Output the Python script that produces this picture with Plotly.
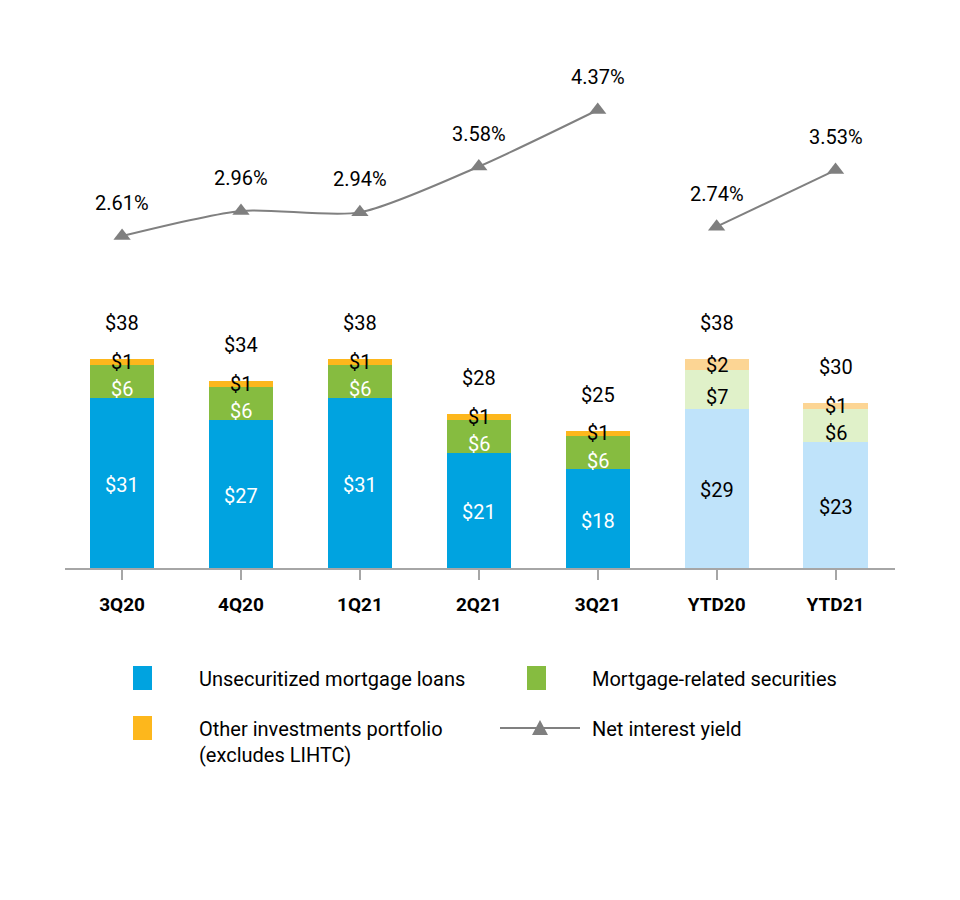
import plotly.graph_objects as go

categories = ["3Q20", "4Q20", "1Q21", "2Q21", "3Q21", "YTD20", "YTD21"]
unsecuritized = [31, 27, 31, 21, 18, 29, 23]
mortgage_sec = [6, 6, 6, 6, 6, 7, 6]
other_inv = [1, 1, 1, 1, 1, 2, 1]
totals = [38, 34, 38, 28, 25, 38, 30]
yield_q_cats = ["3Q20", "4Q20", "1Q21", "2Q21", "3Q21"]
yield_q = [2.61, 2.96, 2.94, 3.58, 4.37]
yield_ytd_cats = ["YTD20", "YTD21"]
yield_ytd = [2.74, 3.53]

FONT = "Roboto, Liberation Sans Narrow, Arial Narrow, sans-serif"
is_ytd = [c.startswith("YTD") for c in categories]
c_blue = ["#BFE3FA" if y else "#00A3E0" for y in is_ytd]
c_green = ["#E0F1C9" if y else "#86BC40" for y in is_ytd]
c_orange = ["#FCD594" if y else "#FDB71C" for y in is_ytd]

fig = go.Figure()
for vals, cols in [(unsecuritized, c_blue), (mortgage_sec, c_green), (other_inv, c_orange)]:
    fig.add_trace(go.Bar(x=categories, y=vals, marker=dict(color=cols, line=dict(width=0)),
                         showlegend=False, hoverinfo="skip"))

for xs, ys, shape in [(yield_q_cats, yield_q, "spline"), (yield_ytd_cats, yield_ytd, "linear")]:
    fig.add_trace(go.Scatter(x=xs, y=ys, yaxis="y2", mode="lines+markers",
                             line=dict(color="#808080", width=2, shape=shape, smoothing=0.7),
                             marker=dict(symbol="triangle-up", size=15, color="#7F7F7F"),
                             showlegend=False, hoverinfo="skip"))

ann = []
for i, c in enumerate(categories):
    ytd = is_ytd[i]
    base = 0
    for vals, col, shift in [(unsecuritized, "black" if ytd else "white", -2),
                             (mortgage_sec, "black" if ytd else "white", -8),
                             (other_inv, "black", 0)]:
        v = vals[i]
        ann.append(dict(x=c, y=base + v / 2, xref="x", yref="y", text=f"${v}", showarrow=False,
                        font=dict(family=FONT, size=20, color=col), yshift=shift))
        base += v
    ann.append(dict(x=c, y=totals[i], xref="x", yref="y", text=f"${totals[i]}", showarrow=False,
                    font=dict(family=FONT, size=20, color="black"), yshift=36))

for xs, ys in [(yield_q_cats, yield_q), (yield_ytd_cats, yield_ytd)]:
    for x, y in zip(xs, ys):
        ann.append(dict(x=x, y=y, xref="x", yref="y2", text=f"{y:.2f}%", showarrow=False,
                        font=dict(family=FONT, size=20, color="black"), yshift=33))

# Legend (manual), positioned in page pixels converted to plot-area paper coords
PL, PR, PT, PB = 65, 895, 60, 568
def px(x):
    return (x - PL) / (PR - PL)
def py(y):
    return (PB - y) / (PB - PT)

shapes = []
leg_items = [
    ("#00A3E0", 133, 197, 678, "Unsecuritized mortgage loans"),
    ("#86BC40", 527, 590, 678, "Mortgage-related securities"),
    ("#FDB71C", 133, 197, 728, "Other investments portfolio<br>(excludes LIHTC)"),
]
for col, x0, tx, yc, label in leg_items:
    shapes.append(dict(type="rect", xref="paper", yref="paper", x0=px(x0), x1=px(x0 + 19),
                       y0=py(yc + 12), y1=py(yc - 12), fillcolor=col, line=dict(width=0)))
    ann.append(dict(x=px(tx), y=py(yc - 13), xref="paper", yref="paper", text=label, showarrow=False,
                    xanchor="left", yanchor="top", align="left",
                    font=dict(family=FONT, size=20, color="black")))
shapes.append(dict(type="line", xref="paper", yref="paper", x0=px(500), x1=px(580), y0=py(728), y1=py(728),
                   line=dict(color="#808080", width=2)))
shapes.append(dict(type="path", xref="paper", yref="paper",
                   path=f"M {px(532)} {py(735)} L {px(548)} {py(735)} L {px(540)} {py(720)} Z",
                   fillcolor="#7F7F7F", line=dict(width=0)))
ann.append(dict(x=px(590), y=py(715), xref="paper", yref="paper", text="Net interest yield", showarrow=False,
                xanchor="left", yanchor="top", align="left", font=dict(family=FONT, size=20, color="black")))

fig.update_layout(
    width=960, height=900,
    margin=dict(l=57, r=73, t=52, b=340),
    paper_bgcolor="white", plot_bgcolor="white",
    barmode="stack", bargap=0.46,
    xaxis=dict(range=[-0.48, 6.5], showline=True, linecolor="#A6A6A6", linewidth=2,
               ticks="outside", ticklen=10, tickcolor="#A6A6A6", tickwidth=2,
               ticklabelstandoff=8,
               tickfont=dict(family=FONT, size=19, color="black", weight="bold"),
               showgrid=False, zeroline=False, fixedrange=True),
    yaxis=dict(range=[0, 92.4], visible=False, showgrid=False),
    yaxis2=dict(range=[-2.027, 5.068], overlaying="y", visible=False, showgrid=False),
    annotations=ann, shapes=shapes, showlegend=False,
)

fig.write_html("out.html")
